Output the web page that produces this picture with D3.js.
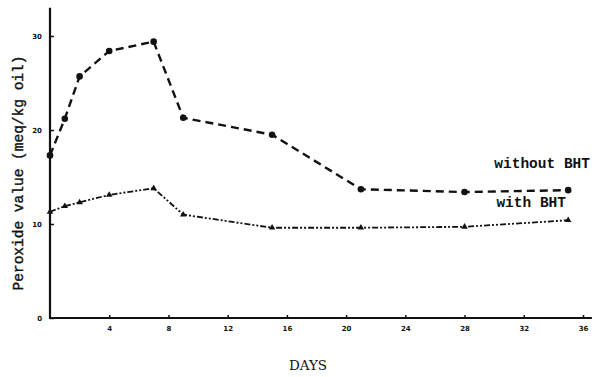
<!DOCTYPE html>
<html>
<head>
<meta charset="utf-8">
<script src="https://cdn.jsdelivr.net/npm/d3@7"></script>
<style>
  body { margin: 0; background: #fff; }
  svg { display: block; }
</style>
</head>
<body>
<div id="chart"></div>
<script>
/* data */
const days = [0, 1, 2, 4, 7, 9, 15, 21, 28, 35];
const withoutBHT = [17.3, 21.2, 25.7, 28.4, 29.4, 21.3, 19.5, 13.7, 13.4, 13.6];
const withBHT = [11.3, 11.9, 12.3, 13.1, 13.8, 11.0, 9.6, 9.6, 9.7, 10.4];
const xTicks = [4, 8, 12, 16, 20, 24, 28, 32, 36];
const yTicks = [0, 10, 20, 30];

const width = 600, height = 377;

const svg = d3.select("#chart").append("svg")
  .attr("width", width)
  .attr("height", height);

const x = d3.scaleLinear().domain([0, 36]).range([50, 583]);
const y = d3.scaleLinear().domain([0, 30]).range([318, 36]);

/* axes */
const xAxis = d3.axisBottom(x).tickValues(xTicks).tickSize(-3).tickSizeOuter(0).tickPadding(8);
const yAxis = d3.axisLeft(y).tickValues(yTicks).tickSize(-4).tickSizeOuter(0).tickPadding(8);

const gx = svg.append("g").attr("transform", "translate(0," + y(0) + ")").call(xAxis);
const gy = svg.append("g").attr("transform", "translate(" + x(0) + ",0)").call(yAxis);
[gx, gy].forEach(g => {
  g.select(".domain").remove();
  g.selectAll(".tick line").attr("stroke", "#111").attr("stroke-width", 1.5);
  g.selectAll(".tick text")
    .attr("font-family", "DejaVu Sans")
    .attr("font-weight", "bold")
    .attr("font-size", 7)
    .attr("fill", "#111");
});

/* axis lines, drawn a bit past the ticks like the original */
svg.append("line")
  .attr("x1", x(0) - 1).attr("x2", x(36.6))
  .attr("y1", y(0)).attr("y2", y(0))
  .attr("stroke", "#111").attr("stroke-width", 2.2);
svg.append("line")
  .attr("x1", x(0)).attr("x2", x(0))
  .attr("y1", y(0) + 1).attr("y2", y(33))
  .attr("stroke", "#111").attr("stroke-width", 2.2);

/* series */
const line = d3.line().x(d => x(d[0])).y(d => y(d[1]));
const ptsWithout = days.map((d, i) => [d, withoutBHT[i]]);
const ptsWith = days.map((d, i) => [d, withBHT[i]]);

svg.append("path")
  .datum(ptsWithout)
  .attr("d", line)
  .attr("fill", "none")
  .attr("stroke", "#111")
  .attr("stroke-width", 2.4)
  .attr("stroke-dasharray", "8,5");

svg.append("path")
  .datum(ptsWith)
  .attr("d", line)
  .attr("fill", "none")
  .attr("stroke", "#111")
  .attr("stroke-width", 1.8)
  .attr("stroke-dasharray", "6,2,2,2,2,2");

svg.selectAll("circle.pt")
  .data(ptsWithout)
  .enter()
  .append("circle")
  .attr("class", "pt")
  .attr("cx", d => x(d[0]))
  .attr("cy", d => y(d[1]))
  .attr("r", 3.3)
  .attr("fill", "#111");

svg.selectAll("path.tri")
  .data(ptsWith)
  .enter()
  .append("path")
  .attr("class", "tri")
  .attr("d", d3.symbol().type(d3.symbolTriangle).size(18))
  .attr("transform", d => "translate(" + x(d[0]) + "," + y(d[1]) + ")")
  .attr("fill", "#111");

/* labels */
svg.append("text")
  .attr("x", 590).attr("y", 168)
  .attr("text-anchor", "end")
  .attr("font-family", "Liberation Mono")
  .attr("font-weight", "bold")
  .attr("font-size", 14.5)
  .attr("fill", "#111")
  .text("without BHT");

svg.append("text")
  .attr("x", 566).attr("y", 207)
  .attr("text-anchor", "end")
  .attr("font-family", "Liberation Mono")
  .attr("font-weight", "bold")
  .attr("font-size", 14.5)
  .attr("fill", "#111")
  .text("with BHT");

svg.append("text")
  .attr("x", 308).attr("y", 370)
  .attr("text-anchor", "middle")
  .attr("font-family", "DejaVu Serif")
  .attr("font-size", 13.5)
  .attr("fill", "#111")
  .text("DAYS");

svg.append("text")
  .attr("transform", "translate(23,173) rotate(-90)")
  .attr("text-anchor", "middle")
  .attr("font-family", "Liberation Mono")
  .attr("font-size", 14.5)
  .attr("fill", "#111")
  .attr("stroke", "#111")
  .attr("stroke-width", 0.4)
  .text("Peroxide value (meq/kg oil)");
</script>
</body>
</html>
